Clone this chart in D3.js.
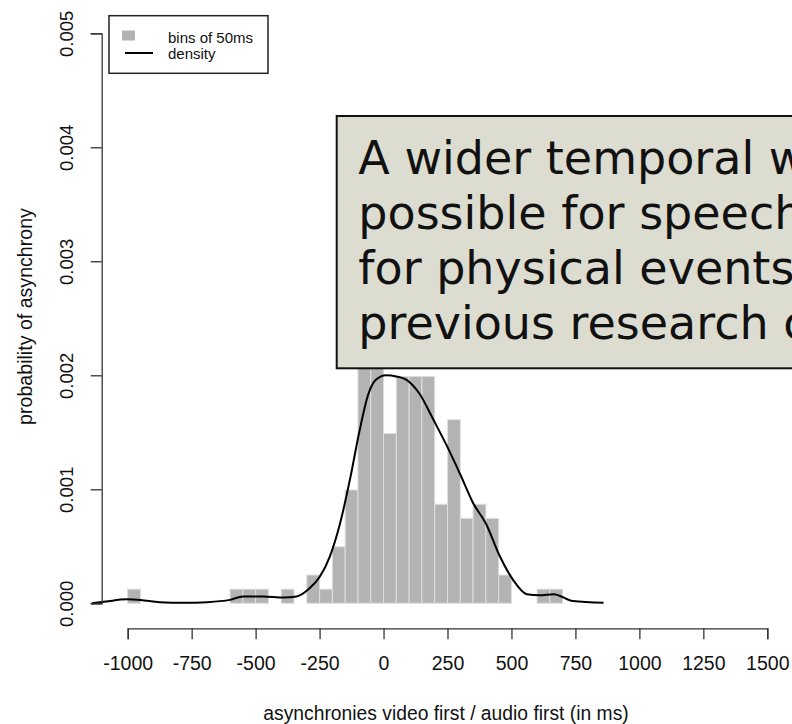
<!DOCTYPE html>
<html>
<head>
<meta charset="utf-8">
<script src="https://cdn.jsdelivr.net/npm/d3@7"></script>
<style>
  body { margin: 0; background: #fff; }
  svg { display: block; }
</style>
</head>
<body>
<script>
// histogram bins of 50ms (start of bin, density)
var binStarts = [-1000, -600, -550, -500, -400, -300, -250, -200, -150, -100, -50,
  0, 50, 100, 150, 200, 250, 300, 350, 400, 450, 600, 650];
var binDensity = [0.000124, 0.000124, 0.000124, 0.000124, 0.000124, 0.000248, 0.000124,
  0.000496, 0.000994, 0.0024, 0.0023, 0.00149, 0.00199, 0.00199, 0.00199,
  0.000869, 0.00161, 0.000745, 0.000869, 0.000745, 0.000248, 0.000124, 0.000124];
var binWidth = 50;

// kernel density curve
var densX = [-1140, -1085, -1005, -950, -875, -780, -690, -600, -550, -470, -390, -340,
  -290, -250, -210, -170, -130, -95, -60, -30, 10, 50, 90, 140, 195, 250, 300,
  350, 400, 455, 505, 560, 610, 665, 740, 860];
var densY = [0, 0.000015, 0.000035, 0.00003, 0.00001, 0.000005, 0.00001, 0.00003,
  0.00006, 0.00006, 0.00005, 0.00006, 0.00013, 0.00023, 0.00041, 0.0007, 0.0011,
  0.0015, 0.00183, 0.00196, 0.002, 0.00199, 0.00196, 0.00184, 0.00161, 0.00137,
  0.00113, 0.00088, 0.0007, 0.00041, 0.00021, 0.00008, 0.00007, 0.00008, 0.00002,
  0.000005];

var xTicks = [-1000, -750, -500, -250, 0, 250, 500, 750, 1000, 1250, 1500];
var yTicks = [0, 0.001, 0.002, 0.003, 0.004, 0.005];

var legendLabels = ['bins of 50ms', 'density'];
var noteLines = ['A wider temporal window is', 'possible for speech than',
  'for physical events: in line with', 'previous research on'];

var width = 792, height = 724;

var svg = d3.select('body').append('svg')
  .attr('width', width)
  .attr('height', height)
  .style('font-family', 'Liberation Sans, Arial, sans-serif');

var xScale = d3.scaleLinear().domain([-1000, 1500]).range([127.7, 767.3]);
var yScale = d3.scaleLinear().domain([0, 0.005]).range([603.3, 33.3]);

// bars
svg.append('g')
  .selectAll('rect')
  .data(binStarts)
  .enter().append('rect')
  .attr('x', function(d) { return xScale(d); })
  .attr('y', function(d, i) { return yScale(binDensity[i]); })
  .attr('width', function(d) { return xScale(d + binWidth) - xScale(d); })
  .attr('height', function(d, i) { return yScale(0) - yScale(binDensity[i]); })
  .attr('fill', '#b3b3b3')
  .attr('stroke', '#dedede')
  .attr('stroke-width', 1);

// density line
var line = d3.line()
  .x(function(d, i) { return xScale(d); })
  .y(function(d, i) { return yScale(densY[i]); })
  .curve(d3.curveMonotoneX);

svg.append('path')
  .datum(densX)
  .attr('fill', 'none')
  .attr('stroke', '#000')
  .attr('stroke-width', 2)
  .attr('d', line);

// x axis
var xAxis = svg.append('g')
  .attr('transform', 'translate(0,628.3)')
  .call(d3.axisBottom(xScale).tickValues(xTicks).tickSize(11).tickPadding(17)
    .tickFormat(d3.format('d')));
xAxis.select('.domain').attr('stroke', '#333').attr('stroke-width', 1.3);
xAxis.selectAll('.tick line').attr('stroke', '#333').attr('stroke-width', 1.3);
xAxis.selectAll('.tick text')
  .attr('font-family', 'Liberation Sans, Arial, sans-serif')
  .attr('font-size', 19.5)
  .attr('fill', '#111')
  .text(function(d) { return String(d).replace('\u2212', '-'); });

// y axis
var yAxis = svg.append('g')
  .attr('transform', 'translate(101.7,0)')
  .call(d3.axisLeft(yScale).tickValues(yTicks).tickSize(11).tickFormat(d3.format('.3f')));
yAxis.select('.domain').attr('stroke', '#333').attr('stroke-width', 1.3);
yAxis.selectAll('.tick line').attr('stroke', '#333').attr('stroke-width', 1.3);
yAxis.selectAll('.tick text')
  .attr('font-family', 'Liberation Sans, Arial, sans-serif')
  .attr('font-size', 18.5)
  .attr('fill', '#111')
  .attr('text-anchor', 'middle')
  .attr('dy', null)
  .attr('x', null)
  .attr('transform', 'translate(-28.4,0) rotate(-90)');

// axis titles
svg.append('text')
  .attr('x', 446)
  .attr('y', 720)
  .attr('text-anchor', 'middle')
  .attr('font-size', 19.3)
  .attr('fill', '#111')
  .text('asynchronies video first / audio first (in ms)');

svg.append('text')
  .attr('transform', 'translate(31.7,316.5) rotate(-90)')
  .attr('text-anchor', 'middle')
  .attr('font-size', 19.6)
  .attr('fill', '#111')
  .text('probability of asynchrony');

// legend
var legend = svg.append('g');
legend.append('rect')
  .attr('x', 109).attr('y', 15.7)
  .attr('width', 159).attr('height', 57.6)
  .attr('fill', '#fff')
  .attr('stroke', '#222')
  .attr('stroke-width', 1.5);
legend.append('rect')
  .attr('x', 122).attr('y', 30.5)
  .attr('width', 13).attr('height', 10)
  .attr('fill', '#b3b3b3');
legend.append('line')
  .attr('x1', 125).attr('x2', 153)
  .attr('y1', 53).attr('y2', 53)
  .attr('stroke', '#000')
  .attr('stroke-width', 2);
legend.selectAll('text.lab')
  .data(legendLabels)
  .enter().append('text')
  .attr('class', 'lab')
  .attr('x', 168)
  .attr('y', function(d, i) { return 42.5 + i * 16.5; })
  .attr('font-size', 15)
  .attr('fill', '#111')
  .text(function(d) { return d; });

// overlay note box
var note = svg.append('g');
note.append('rect')
  .attr('x', 336.7).attr('y', 116)
  .attr('width', 500).attr('height', 252.3)
  .attr('fill', '#dddcd0')
  .attr('stroke', '#111')
  .attr('stroke-width', 2);
note.selectAll('text')
  .data(noteLines)
  .enter().append('text')
  .attr('x', 358.3)
  .attr('y', function(d, i) { return 174 + i * 55.1; })
  .attr('font-family', 'DejaVu Sans, sans-serif')
  .attr('font-size', 46)
  .attr('fill', '#111')
  .text(function(d) { return d; });
</script>
</body>
</html>
